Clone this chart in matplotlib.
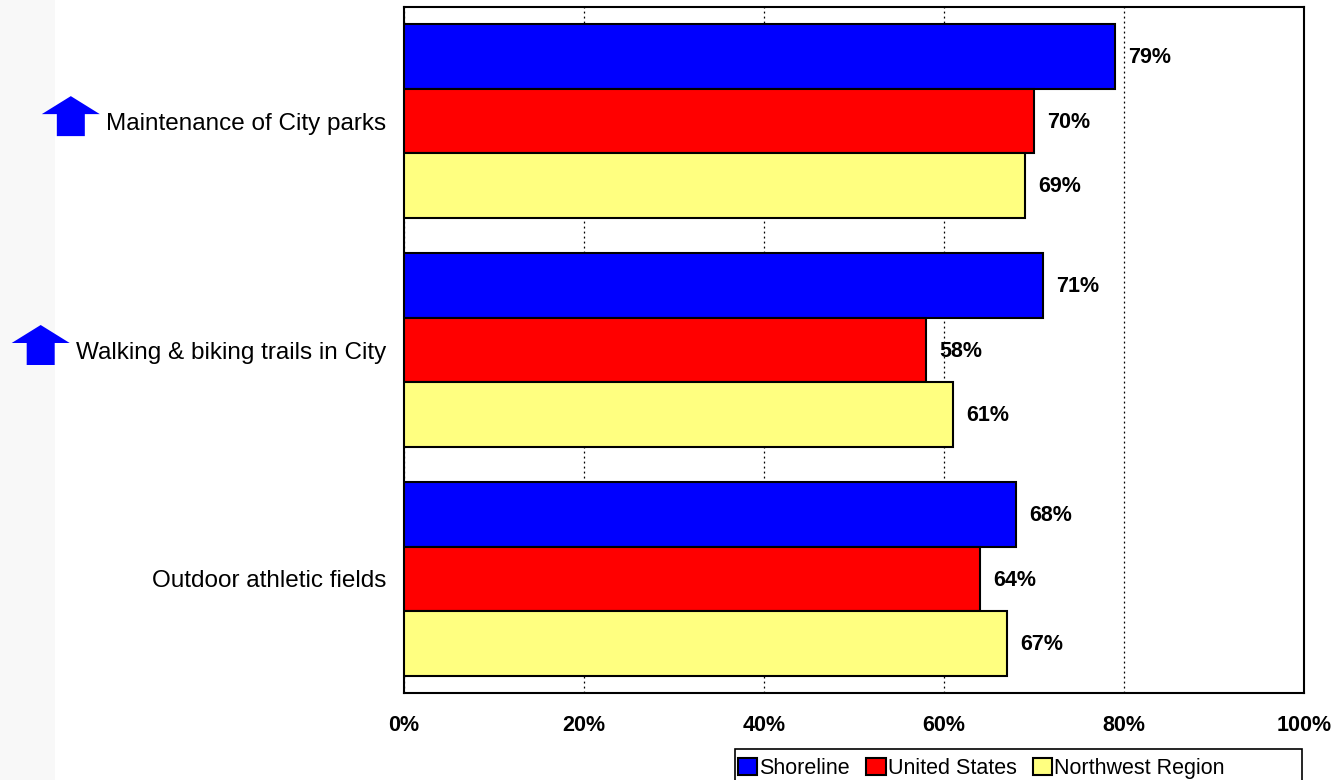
#!/usr/bin/env python3
"""Shoreline parks satisfaction vs. US and Northwest region benchmarks."""

import matplotlib.pyplot as plt
from matplotlib.patches import Polygon, Rectangle
from matplotlib.transforms import blended_transform_factory
import numpy as np

plt.rcParams['font.family'] = ['Liberation Sans', 'DejaVu Sans']

categories = ['Maintenance of City parks', 'Walking & biking trails in City',
              'Outdoor athletic fields']
improved = [True, True, False]   # blue up-arrow next to label

series = ['Shoreline', 'United States', 'Northwest Region']
colors = ['#0000FF', '#FF0000', '#FFFF80']
values = {
    'Shoreline': [79, 71, 68],
    'United States': [70, 58, 64],
    'Northwest Region': [69, 61, 67],
}
xticks = [0, 20, 40, 60, 80, 100]

W, H = 1335, 780
fig = plt.figure(figsize=(W / 100, H / 100), dpi=100)
ax = fig.add_axes([404 / W, 1 - 693 / H, 900 / W, 686 / H])

# faint textured strip at the far left of the slide
fig.patches.append(Rectangle((0, 0), 55 / W, 1, transform=fig.transFigure,
                             facecolor='#f8f8f8', edgecolor='none', zorder=0))

step = 3.55
centers = np.arange(len(categories)) * step
for j, name in enumerate(series):
    y = centers + (j - 1)
    ax.barh(y, values[name], height=1.0, color=colors[j], edgecolor='black',
            linewidth=1.5, label=name, zorder=3)
    for yy, v in zip(y, values[name]):
        ax.text(v + 1.5, yy + 0.02, f'{v}%', va='center', ha='left',
                fontsize=15.5, fontweight='bold', zorder=4)

ax.set_xlim(0, 100)
ax.set_ylim(centers[-1] + 1.77, centers[0] - 1.77)
ax.set_xticks(xticks)
ax.set_xticklabels([f'{t}%' for t in xticks], fontsize=15.5, fontweight='bold')
ax.set_yticks(centers)
ax.set_yticklabels(categories, fontsize=17.5)
ax.tick_params(axis='both', length=0)
ax.tick_params(axis='y', pad=13)
ax.tick_params(axis='x', pad=16)
ax.grid(axis='x', color='black', linestyle=(0, (1.5, 2.5)), linewidth=0.9,
        zorder=1)
for s in ax.spines.values():
    s.set_linewidth(1.5)

# blue up-arrows beside improved categories
fig.canvas.draw()
renderer = fig.canvas.get_renderer()
tr = blended_transform_factory(fig.transFigure, ax.transData)
px = 1 / 64.5   # one pixel in y data units (bar height is ~64.5 px)
for lbl, flag, yc in zip(ax.get_yticklabels(), improved, centers):
    if not flag:
        continue
    bb = lbl.get_window_extent(renderer)
    x_r = (bb.x0 - 6) / W
    hw, sw = 58 / W, 28 / W
    xc = x_r - hw / 2
    top, neck, bot = yc - 25 * px, yc - 7 * px, yc + 15 * px
    pts = [(xc - hw / 2, neck), (xc, top), (xc + hw / 2, neck),
           (xc + sw / 2, neck), (xc + sw / 2, bot), (xc - sw / 2, bot),
           (xc - sw / 2, neck)]
    fig.patches.append(Polygon(pts, closed=True, transform=tr,
                               facecolor='#0000FF', edgecolor='none'))

# legend below the chart, partly cut off by the slide edge
fig.legend(loc='upper left', bbox_to_anchor=(738 / W, 1 - 758 / H),
           ncol=3, fontsize=15.5, frameon=False, handlelength=0.9,
           handleheight=0.8, handletextpad=0.1, columnspacing=0.75,
           borderpad=0, borderaxespad=0)
fig.patches.append(Rectangle((735 / W, -0.02), 567 / W, 0.02 + 31 / H,
                             transform=fig.transFigure, facecolor='none',
                             edgecolor='black', linewidth=1.2))

fig.savefig('out.png', dpi=100)
